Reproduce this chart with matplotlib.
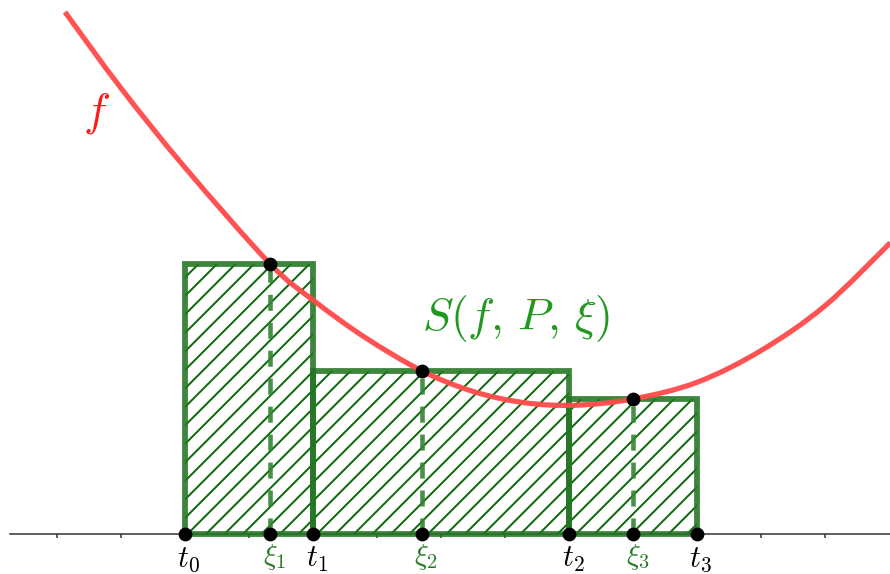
import matplotlib
matplotlib.use("Agg")
import matplotlib.pyplot as plt
from matplotlib.patches import Rectangle, PathPatch
from matplotlib.path import Path
import numpy as np

plt.rcParams['mathtext.fontset'] = 'cm'

# curve f, points
curve_x = [-1.875, -1.0, 0.0, 1.33, 2.0, 2.8, 3.70, 4.5, 5.3, 6.1, 7.0,
           8.0, 9.0, 10.0, 11.02]
curve_y = [8.156, 6.966, 5.726, 4.22, 3.656, 3.08, 2.55, 2.228, 2.052, 2.012,
           2.11, 2.37, 2.866, 3.566, 4.55]

# partition and tags
t_points = [0.0, 2.0, 6.0, 8.0]
xi_points = [1.33, 3.70, 7.0]
heights = [4.22, 2.55, 2.11]  # f(xi)
t_labels = [r'$t_0$', r'$t_1$', r'$t_2$', r'$t_3$']
xi_labels = [r'$\xi_1$', r'$\xi_2$', r'$\xi_3$']
ticks = list(range(-2, 11))

W_PX, H_PX = 890, 574
TARGET_HATCH_PX = 19.0  # horizontal spacing of hatch lines in the reference


def hatch_spacing(dpi, pattern):
    f = plt.figure(figsize=(300 / dpi, 300 / dpi), dpi=dpi)
    a = f.add_axes([0, 0, 1, 1])
    a.set_axis_off()
    a.add_patch(Rectangle((0, 0), 1, 1, transform=a.transAxes, facecolor='white',
                          edgecolor='black', hatch=pattern, linewidth=0))
    f.canvas.draw()
    img = np.asarray(f.canvas.buffer_rgba())[:, :, 0].astype(float)
    plt.close(f)
    row = img[150, 20:280] < 160
    starts = np.where(row[1:] & ~row[:-1])[0]
    if len(starts) < 2:
        return None
    return float(np.median(np.diff(starts)))


# choose a dpi / pattern so that hatch spacing matches the reference
best = (110, '/')
best_err = 1e9
for pat in ['/', '//', '///']:
    s = hatch_spacing(100, pat)
    if not s:
        continue
    d = 100 * TARGET_HATCH_PX / s
    if 70 <= d <= 260:
        s2 = hatch_spacing(d, pat) or s * d / 100
        err = abs(s2 - TARGET_HATCH_PX)
        if err < best_err:
            best_err = err
            best = (d, pat)
DPI, HATCH = best
SC = 110.0 / DPI  # keep pixel sizes as designed at 110 dpi

plt.rcParams['hatch.linewidth'] = 1.3 * SC

fig = plt.figure(figsize=(W_PX / DPI, H_PX / DPI), dpi=DPI)
ax = fig.add_axes([0, 0, 1, 1])
ax.set_xlim(-185 / 64, (890 - 185) / 64)
ax.set_ylim(-40 / 64, 534 / 64)

# axis
for s in ['top', 'right', 'left']:
    ax.spines[s].set_visible(False)
ax.spines['bottom'].set_position(('data', 0))
ax.spines['bottom'].set_bounds(-175 / 64, (890 - 185) / 64)
ax.spines['bottom'].set_color('#333333')
ax.spines['bottom'].set_linewidth(1.0 * SC)
ax.set_xticks(ticks)
ax.set_xticklabels([])
ax.tick_params(axis='x', direction='out', length=2.5 * SC, width=1.0 * SC,
               color='#333333')
ax.set_yticks([])

edge_col = '#237523'
hatch_col = '#0d6b0d'
for i in range(3):
    x0, x1 = t_points[i], t_points[i + 1]
    h = heights[i]
    ax.add_patch(Rectangle((x0, 0), x1 - x0, h, facecolor='none',
                           edgecolor=hatch_col, hatch=HATCH, linewidth=0, zorder=2))
    ax.add_patch(Rectangle((x0, 0), x1 - x0, h, facecolor='none',
                           edgecolor=edge_col, linewidth=3.8 * SC, alpha=0.88,
                           zorder=3))
    ax.plot([xi_points[i], xi_points[i]], [0, h], color='#348434',
            linewidth=3.0 * SC, dashes=(3.5, 2.6), alpha=0.9, zorder=3)

# smooth curve through the read points (Catmull-Rom as cubic Bezier segments)
P = np.column_stack([curve_x, curve_y])
verts = [P[0]]
codes = [Path.MOVETO]
n = len(P)
for i in range(n - 1):
    p0 = P[i - 1] if i > 0 else P[i]
    p1 = P[i]
    p2 = P[i + 1]
    p3 = P[i + 2] if i + 2 < n else P[i + 1]
    verts += [p1 + (p2 - p0) / 6.0, p2 - (p3 - p1) / 6.0, p2]
    codes += [Path.CURVE4] * 3
ax.add_patch(PathPatch(Path(verts, codes), facecolor='none', edgecolor='#ff4a4a',
                       linewidth=3.4 * SC, alpha=0.95, zorder=4))

ms = 8 * SC
ax.plot(t_points, [0] * len(t_points), 'o', color='black', markersize=ms, zorder=6)
ax.plot(xi_points, [0] * len(xi_points), 'o', color='black', markersize=ms, zorder=6)
ax.plot(xi_points, heights, 'o', color='black', markersize=ms, zorder=6)

for x, lab in zip(t_points, t_labels):
    ax.text(x + 0.06, -0.17, lab, fontsize=20 * SC, ha='center', va='top',
            color='black')
for x, lab in zip(xi_points, xi_labels):
    ax.text(x + 0.07, -38 / 64, lab, fontsize=19 * SC, ha='center', va='bottom',
            color='#2a7a2a')

ax.text((516 - 185) / 64, (534 - 318) / 64, r'$S(f,\,P,\,\xi)$', fontsize=30 * SC,
        ha='center', va='center', color='#1f9a1f')
ax.text((97 - 185) / 64, (534 - 113) / 64, r'$f$', fontsize=30 * SC,
        ha='center', va='center', color='#ff1a1a')

fig.savefig('out.png', dpi=DPI)
